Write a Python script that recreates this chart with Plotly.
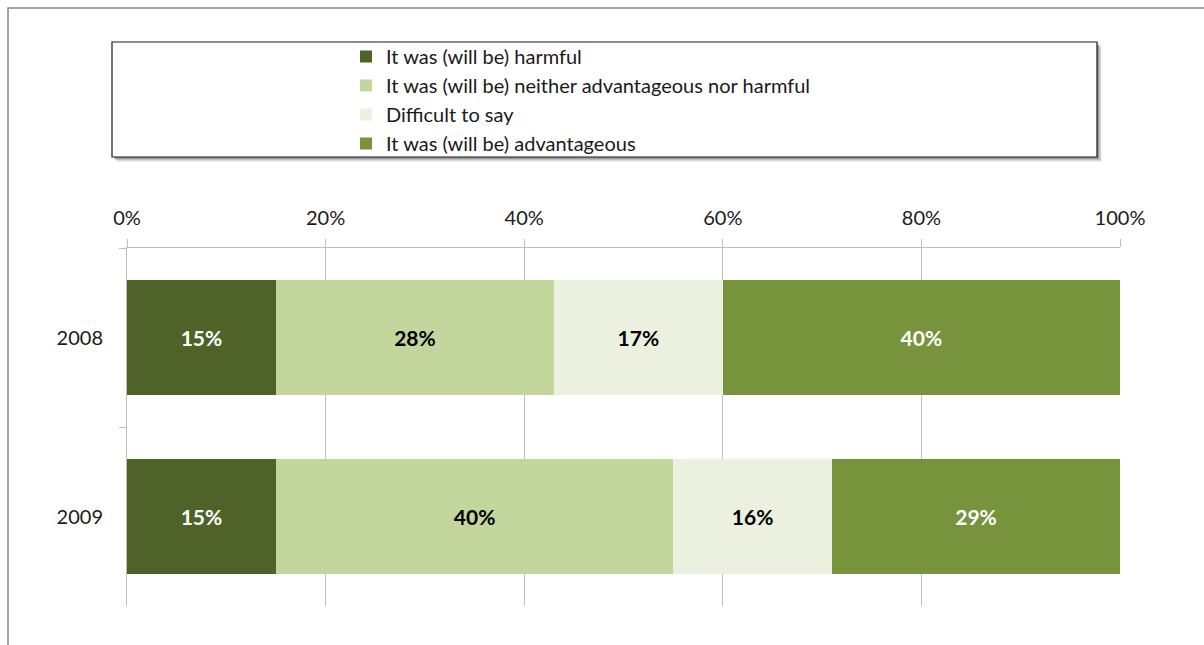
import plotly.graph_objects as go

# Survey results by year (shares in percent)
years = ["2008", "2009"]
series_names = [
    "It was (will be) harmful",
    "It was (will be) neither advantageous nor harmful",
    "Difficult to say",
    "It was (will be) advantageous",
]
harmful = [15, 15]
neither = [28, 40]
difficult = [17, 16]
advantageous = [40, 29]
series_values = [harmful, neither, difficult, advantageous]

x_ticks = [0, 20, 40, 60, 80, 100]
x_tick_labels = ["0%", "20%", "40%", "60%", "80%", "100%"]

colors = ["#4F6228", "#C3D69B", "#EBF1DE", "#77933C"]
label_colors = ["#FFFFFF", "#000000", "#000000", "#FFFFFF"]

W, H = 1204, 645
M_L, M_R, M_T, M_B = 127, 84, 248, 39
PW, PH = W - M_L - M_R, H - M_T - M_B
FONT = "Lato"


def px_x(p):
    """Pixel column -> paper x."""
    return (p - M_L) / PW


def px_y(p):
    """Pixel row -> paper y."""
    return (H - M_B - p) / PH


fig = go.Figure()
for name, vals, col, lcol in zip(series_names, series_values, colors, label_colors):
    fig.add_trace(go.Bar(
        y=years,
        x=vals,
        name=name,
        orientation="h",
        marker=dict(color=col, line=dict(width=0)),
        text=[f"{v}%" for v in vals],
        texttemplate="%{text}",
        textposition="inside",
        insidetextanchor="middle",
        textangle=0,
        constraintext="none",
        textfont=dict(family=FONT, size=21, color=lcol, weight="bold"),
        hoverinfo="skip",
    ))

shapes = []
# outer chart frame
shapes.append(dict(type="rect", xref="paper", yref="paper",
                   x0=px_x(8), x1=px_x(W + 10), y0=px_y(H + 10), y1=px_y(8),
                   line=dict(color="#878787", width=1.5), fillcolor="rgba(0,0,0,0)",
                   layer="below"))
# legend box drop shadow
for off, alpha in [(5, 0.08), (4, 0.12), (3, 0.18), (2, 0.25)]:
    shapes.append(dict(type="rect", xref="paper", yref="paper",
                       x0=px_x(112 + off), x1=px_x(1097 + off),
                       y0=px_y(157 + off), y1=px_y(42 + off),
                       line=dict(width=0), fillcolor=f"rgba(60,60,60,{alpha})",
                       layer="below"))
# legend box
shapes.append(dict(type="rect", xref="paper", yref="paper",
                   x0=px_x(112), x1=px_x(1097), y0=px_y(157), y1=px_y(42),
                   line=dict(color="#1a1a1a", width=1.2), fillcolor="#FFFFFF",
                   layer="below"))

fig.update_layout(
    width=W, height=H,
    margin=dict(l=M_L, r=M_R, t=M_T, b=M_B, pad=0),
    barmode="stack",
    bargap=0.357,
    paper_bgcolor="#FFFFFF",
    plot_bgcolor="#FFFFFF",
    font=dict(family=FONT, size=20, color="#1a1a1a"),
    showlegend=True,
    legend=dict(
        x=px_x(346), y=px_y(37), xanchor="left", yanchor="top",
        orientation="v", traceorder="normal",
        bgcolor="rgba(0,0,0,0)", borderwidth=0,
        font=dict(family=FONT, size=20, color="#1a1a1a"),
        itemclick=False, itemdoubleclick=False,
    ),
    shapes=shapes,
    xaxis=dict(
        side="top", range=[0, 100],
        tickvals=x_ticks, ticktext=x_tick_labels,
        showline=True, linecolor="#BFBFBF", linewidth=1,
        showgrid=True, gridcolor="#BFBFBF", gridwidth=1,
        zeroline=False,
        ticks="outside", ticklen=8, tickcolor="#BFBFBF", tickwidth=1,
        ticklabelstandoff=6,
        tickfont=dict(family=FONT, size=20, color="#1a1a1a"),
        fixedrange=True,
    ),
    yaxis=dict(
        type="category", autorange="reversed",
        showline=True, linecolor="#BFBFBF", linewidth=1,
        showgrid=False, zeroline=False,
        ticks="outside", ticklen=7, tickcolor="#BFBFBF", tickwidth=1,
        tickson="boundaries",
        ticklabelstandoff=19,
        tickfont=dict(family=FONT, size=20, color="#1a1a1a"),
        fixedrange=True,
    ),
)

fig.write_html("out.html")
